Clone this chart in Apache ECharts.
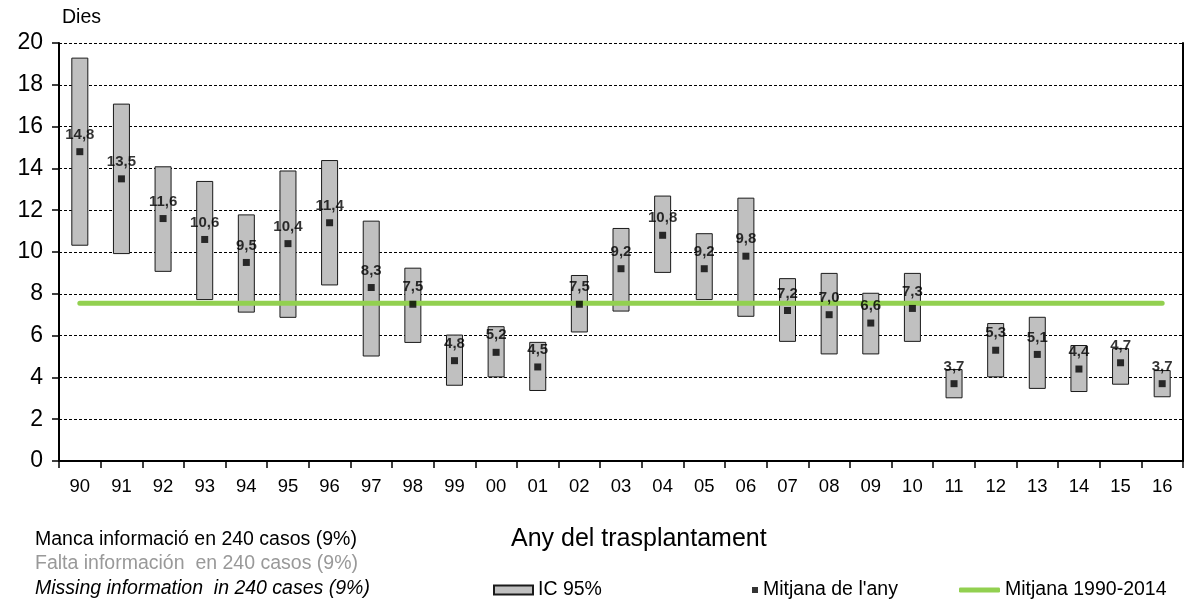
<!DOCTYPE html>
<html>
<head>
<meta charset="utf-8">
<script src="https://cdn.jsdelivr.net/npm/echarts@6/dist/echarts.min.js"></script>
<style>
  html, body { margin: 0; padding: 0; background: #ffffff; }
  #chart { width: 1187px; height: 604px; }
</style>
</head>
<body>
<div id="chart"></div>
<script>
// ---- Data ----
var years = ['90','91','92','93','94','95','96','97','98','99','00','01','02','03','04','05','06','07','08','09','10','11','12','13','14','15','16'];
var ciLow  = [10.3, 9.9, 9.05, 7.7, 7.1, 6.85, 8.4, 5.0, 5.65, 3.6, 4.0, 3.35, 6.15, 7.15, 9.0, 7.7, 6.9, 5.7, 5.1, 5.1, 5.7, 3.0, 4.0, 3.45, 3.3, 3.65, 3.05];
var ciHigh = [19.3, 17.1, 14.1, 13.4, 11.8, 13.9, 14.4, 11.5, 9.25, 6.05, 6.45, 5.7, 8.9, 11.15, 12.7, 10.9, 12.6, 8.75, 9.0, 8.05, 9.0, 4.4, 6.6, 6.9, 5.55, 5.4, 4.35];
var yearMeans = [14.8, 13.5, 11.6, 10.6, 9.5, 10.4, 11.4, 8.3, 7.5, 4.8, 5.2, 4.5, 7.5, 9.2, 10.8, 9.2, 9.8, 7.2, 7.0, 6.6, 7.3, 3.7, 5.3, 5.1, 4.4, 4.7, 3.7];
var overallMean = 7.55;
var yTicks = { min: 0, max: 20, interval: 2 };

var ciSpan = ciHigh.map(function (h, i) { return +(h - ciLow[i]).toFixed(2); });
var meanLine = years.map(function () { return overallMean; });

var FONT = '"Liberation Sans", Arial, sans-serif';
var chart = echarts.init(document.getElementById('chart'), null, { renderer: 'canvas' });

var option = {
  backgroundColor: '#ffffff',
  animation: false,
  textStyle: { fontFamily: FONT },
  grid: { left: 59, right: 4, top: 43, bottom: 143, containLabel: false },
  xAxis: {
    type: 'category',
    data: years,
    boundaryGap: true,
    axisLine: { show: true, lineStyle: { color: '#000', width: 2 } },
    axisTick: { show: true, length: 7, lineStyle: { color: '#000', width: 1.5 } },
    axisLabel: { interval: 0, color: '#000', fontSize: 18.5, fontFamily: FONT, margin: 16 },
    splitLine: { show: false }
  },
  yAxis: [{
    type: 'value',
    min: yTicks.min, max: yTicks.max, interval: yTicks.interval,
    axisLine: { show: true, lineStyle: { color: '#000', width: 2 } },
    axisTick: { show: true, length: 7, lineStyle: { color: '#000', width: 1.5 } },
    axisLabel: { color: '#000', fontSize: 23, fontFamily: FONT, margin: 16 },
    splitLine: { show: true, lineStyle: { color: '#000', width: 1, type: [3, 2] } }
  }, {
    type: 'value',
    position: 'right',
    min: yTicks.min, max: yTicks.max, interval: yTicks.interval,
    axisLine: { show: true, lineStyle: { color: '#000', width: 2 } },
    axisTick: { show: false },
    axisLabel: { show: false },
    splitLine: { show: false }
  }],
  legend: [{
    data: ['IC 95%'],
    left: 493, top: 580, padding: 0,
    icon: 'rect', itemWidth: 39, itemHeight: 9,
    textStyle: { color: '#000', fontSize: 19.5, fontFamily: FONT }
  }, {
    data: ["Mitjana de l'any"],
    left: 752, top: 580, padding: 0,
    icon: 'rect', itemWidth: 6, itemHeight: 6,
    textStyle: { color: '#000', fontSize: 19.5, fontFamily: FONT }
  }, {
    data: ['Mitjana 1990-2014'],
    left: 959, top: 580, padding: 0,
    icon: 'roundRect', itemWidth: 41, itemHeight: 5,
    itemStyle: { color: '#92d050' },
    textStyle: { color: '#000', fontSize: 19.5, fontFamily: FONT }
  }],
  series: [{
    name: 'base',
    type: 'bar',
    stack: 'ci',
    data: ciLow,
    barWidth: 17,
    silent: true,
    itemStyle: { color: 'rgba(0,0,0,0)', borderWidth: 0 }
  }, {
    name: 'IC 95%',
    type: 'bar',
    stack: 'ci',
    data: ciSpan,
    barWidth: 17,
    itemStyle: { color: '#c0c0c0', borderColor: '#1a1a1a', borderWidth: 1 }
  }, {
    name: 'Mitjana 1990-2014',
    type: 'line',
    data: meanLine,
    symbol: 'none',
    lineStyle: { color: '#92d050', width: 5, cap: 'round' },
    itemStyle: { color: '#92d050' },
    z: 3
  }, {
    name: "Mitjana de l'any",
    type: 'scatter',
    data: yearMeans,
    symbol: 'rect',
    symbolSize: 7,
    itemStyle: { color: '#000' },
    z: 4,
    label: {
      show: true,
      position: 'top',
      distance: 6,
      color: '#000',
      fontWeight: 'bold',
      fontSize: 15,
      fontFamily: FONT,
      formatter: function (p) { return p.value.toFixed(1).replace('.', ','); }
    }
  }],
  graphic: [{
    type: 'text', left: 62, top: 8,
    style: { text: 'Dies', fill: '#000', fontSize: 19.5, fontFamily: FONT }
  }, {
    type: 'text', left: 511, top: 527,
    style: { text: 'Any del trasplantament', fill: '#000', fontSize: 25, fontFamily: FONT }
  }, {
    type: 'text', left: 35, top: 530,
    style: { text: 'Manca informació en 240 casos (9%)', fill: '#000', fontSize: 19.5, fontFamily: FONT }
  }, {
    type: 'text', left: 35, top: 554,
    style: { text: 'Falta información  en 240 casos (9%)', fill: '#999999', fontSize: 19.5, fontFamily: FONT }
  }, {
    type: 'text', left: 35, top: 579,
    style: { text: 'Missing information  in 240 cases (9%)', fill: '#000', fontSize: 19.5, fontStyle: 'italic', fontFamily: FONT }
  }]
};
chart.setOption(option);
</script>
</body>
</html>
